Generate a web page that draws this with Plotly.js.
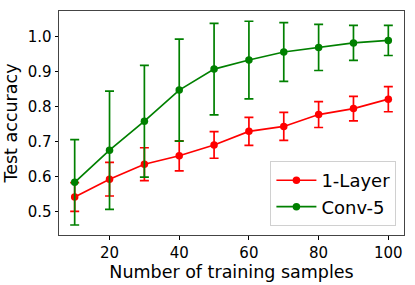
<!DOCTYPE html>
<html>
<head>
<meta charset="utf-8">
<script src="https://cdn.plot.ly/plotly-3.0.1.min.js"></script>
<style>html,body{margin:0;padding:0;background:#fff;}#chart{width:415px;height:285px;}</style>
</head>
<body>
<div id="chart"></div>
<script>
const samples = [10, 20, 30, 40, 50, 60, 70, 80, 90, 100];
const layer1Mean = [0.542, 0.593, 0.636, 0.660, 0.691, 0.730, 0.744, 0.778, 0.795, 0.822];
const layer1Err  = [0.041, 0.048, 0.047, 0.043, 0.038, 0.040, 0.040, 0.037, 0.035, 0.036];
const conv5Mean  = [0.584, 0.676, 0.759, 0.848, 0.908, 0.934, 0.957, 0.970, 0.983, 0.990];
const conv5Err   = [0.122, 0.169, 0.160, 0.146, 0.131, 0.111, 0.084, 0.066, 0.050, 0.043];
const yTicks = [0.5, 0.6, 0.7, 0.8, 0.9, 1.0];
const xTicks = [20, 40, 60, 80, 100];

const font = 'DejaVu Sans, sans-serif';
function trace(name, y, err, color) {
  return {
    x: samples, y: y, name: name, type: 'scatter', mode: 'lines+markers',
    line: {color: color, width: 1.7},
    marker: {color: color, size: 7.5},
    error_y: {type: 'data', array: err, visible: true, color: color, thickness: 1.7, width: 4.5}
  };
}
const data = [
  trace('1-Layer', layer1Mean, layer1Err, '#ff0000'),
  trace('Conv-5', conv5Mean, conv5Err, '#008000')
];
const layout = {
  width: 415, height: 285,
  margin: {l: 59, r: 11, t: 11, b: 50},
  paper_bgcolor: '#fff', plot_bgcolor: '#fff',
  font: {family: font, color: '#000', size: 15},
  showlegend: true,
  legend: {x: 0.978, xanchor: 'right', y: 0.04, yanchor: 'bottom',
           bgcolor: 'rgba(255,255,255,0.8)', bordercolor: '#d0d0d0', borderwidth: 1,
           font: {family: font, size: 18}, itemwidth: 40},
  xaxis: {
    range: [5.5, 104.5], tickvals: xTicks, ticks: 'outside', ticklen: 3.5, tickcolor: '#000',
    showgrid: false, zeroline: false, showline: true, mirror: true, linecolor: '#444', linewidth: 1,
    tickfont: {size: 15},
    title: {text: 'Number of training samples', font: {size: 17.5}, standoff: 4}
  },
  yaxis: {
    range: [0.4334, 1.0743], tickvals: yTicks, tickformat: '.1f', ticks: 'outside', ticklen: 3.5, tickcolor: '#000',
    showgrid: false, zeroline: false, showline: true, mirror: true, linecolor: '#444', linewidth: 1,
    tickfont: {size: 15},
    title: {text: 'Test accuracy', font: {size: 17.5}, standoff: 5}
  }
};
Plotly.newPlot('chart', data, layout, {staticPlot: true, displayModeBar: false});
</script>
</body>
</html>
